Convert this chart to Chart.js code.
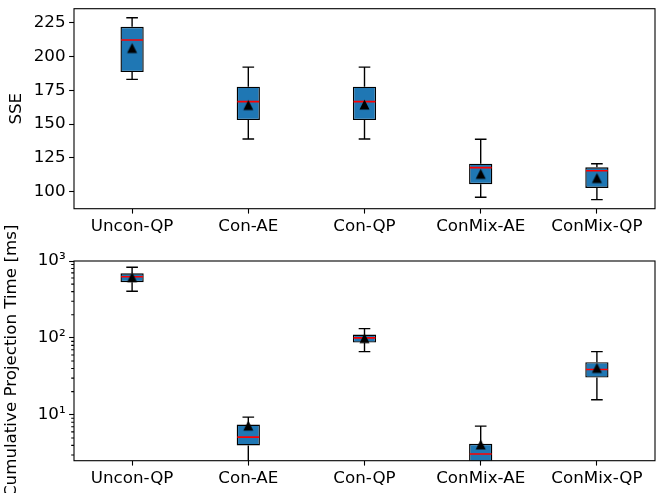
<!DOCTYPE html>
<html>
<head>
<meta charset="utf-8">
<script src="https://cdn.jsdelivr.net/npm/chart.js@4"></script>
<style>
  html, body { margin:0; padding:0; background:#fff; overflow:hidden; width:656px; height:493px; }
  #c1 { position:absolute; left:0; top:0; }
  #c2 { position:absolute; left:0; top:220px; }
</style>
</head>
<body>
<canvas id="c1" width="662" height="240"></canvas>
<canvas id="c2" width="662" height="273"></canvas>
<script>
// ---------- data ----------
const categories = ['Uncon-QP', 'Con-AE', 'Con-QP', 'ConMix-AE', 'ConMix-QP'];

// SSE (top panel)
const sseWhiskerLow  = [183.1, 139.0, 139.0, 95.9, 94.1];
const sseQ1          = [188.5, 153.0, 153.0, 105.5, 102.7];
const sseMedian      = [212.2, 166.6, 166.6, 117.8, 115.5];
const sseQ3          = [222.0, 177.7, 177.7, 120.7, 118.0];
const sseWhiskerHigh = [228.7, 192.2, 192.2, 138.8, 120.7];
const sseMean        = [206.3, 164.1, 164.5, 113.2, 110.1];
const sseTicks       = [100, 125, 150, 175, 200, 225];

// Cumulative projection time [ms] (bottom panel, log scale)
const timeWhiskerLow  = [404, 1.5, 66.4, 1.0, 15.7];
const timeQ1          = [529, 3.99, 87, 2.0, 30.5];
const timeMedian      = [625, 5.13, 100, 3.09, 38.8];
const timeQ3          = [692, 7.48, 110.5, 4.2, 48.3];
const timeWhiskerHigh = [828, 9.33, 132, 7.13, 66.4];
const timeMean        = [616, 7.24, 99.4, 4.11, 40.7];
const timeMajorTicks  = [10, 100, 1000];
const timeMajorLabels = ['10¹', '10²', '10³'];
const timeMinorTicks  = [3,4,5,6,7,8,9,20,30,40,50,60,70,80,90,200,300,400,500,600,700,800,900];

// ---------- styling ----------
const FONT = { family: 'DejaVu Sans', size: 16.7 };
Chart.defaults.color = '#000';
Chart.defaults.font.family = 'DejaVu Sans';
Chart.defaults.font.size = 16.7;

const tri = document.createElement('canvas');
tri.width = 13; tri.height = 13;
(function(){
  const c = tri.getContext('2d');
  c.beginPath(); c.moveTo(6.5, 1.5); c.lineTo(1.5, 11.5); c.lineTo(11.5, 11.5); c.closePath();
  c.fillStyle = '#000'; c.fill();
})();

const boxParts = {
  id: 'boxParts',
  afterDatasetDraw(chart, args, opts) {
    if (args.index !== 0) return;
    const ctx = chart.ctx, xs = chart.scales.x, ys = chart.scales.y, a = chart.chartArea;
    const cw = xs.getPixelForValue(1) - xs.getPixelForValue(0);
    ctx.save();
    ctx.beginPath(); ctx.rect(a.left, a.top, a.right - a.left, a.bottom - a.top); ctx.clip();
    for (let i = 0; i < opts.med.length; i++) {
      const px = xs.getPixelForValue(i);
      const yLo = ys.getPixelForValue(opts.low[i]);
      const yQ1 = ys.getPixelForValue(opts.q1[i]);
      const yQ3 = ys.getPixelForValue(opts.q3[i]);
      const yHi = ys.getPixelForValue(opts.high[i]);
      const yMed = ys.getPixelForValue(opts.med[i]);
      ctx.strokeStyle = '#000'; ctx.lineWidth = 1.4;
      ctx.beginPath();
      ctx.moveTo(px, yQ1); ctx.lineTo(px, yLo);
      ctx.moveTo(px, yQ3); ctx.lineTo(px, yHi);
      ctx.moveTo(px - 0.05 * cw, yLo); ctx.lineTo(px + 0.05 * cw, yLo);
      ctx.moveTo(px - 0.05 * cw, yHi); ctx.lineTo(px + 0.05 * cw, yHi);
      ctx.stroke();
      ctx.strokeStyle = 'red'; ctx.lineWidth = 1.6;
      ctx.beginPath();
      ctx.moveTo(px - 0.1 * cw + 0.7, yMed); ctx.lineTo(px + 0.1 * cw - 0.7, yMed);
      ctx.stroke();
    }
    ctx.restore();
  },
  afterDraw(chart, args, opts) {
    const ctx = chart.ctx, ys = chart.scales.y, a = chart.chartArea;
    ctx.save();
    ctx.strokeStyle = '#000'; ctx.lineWidth = 1.1;
    if (opts.minor) {
      ctx.beginPath();
      opts.minor.forEach(v => {
        const py = ys.getPixelForValue(v);
        if (py >= a.top - 0.5 && py <= a.bottom + 0.5) { ctx.moveTo(a.left, py); ctx.lineTo(a.left - 2.8, py); }
      });
      ctx.stroke();
    }
    ctx.strokeRect(a.left, a.top, a.right - a.left, a.bottom - a.top);
    ctx.restore();
  }
};

function makeChart(id, cfg) {
  const { q1, q3, low, high, med, mean, yScale, padTop, xHeight, title, titlePad, minor } = cfg;
  return new Chart(document.getElementById(id), {
    type: 'bar',
    data: {
      labels: categories,
      datasets: [
        {
          type: 'bar',
          data: q1.map((v, i) => [v, q3[i]]),
          backgroundColor: '#1f77b4',
          borderColor: '#000',
          borderWidth: 1.4,
          borderSkipped: false,
          barPercentage: 0.2,
          categoryPercentage: 1.0,
          order: 2
        },
        {
          type: 'line',
          data: mean,
          showLine: false,
          pointStyle: tri,
          pointRadius: 6,
          order: 1
        }
      ]
    },
    options: {
      responsive: false,
      animation: false,
      events: [],
      layout: { padding: { top: padTop, right: 1.7, left: 0, bottom: 0 } },
      plugins: {
        legend: { display: false },
        tooltip: { enabled: false },
        boxParts: { q1, q3, low, high, med, minor }
      },
      scales: {
        x: {
          type: 'category',
          offset: true,
          grid: { display: true, offset: false, drawOnChartArea: false, tickLength: 4.9, tickColor: '#000', tickWidth: 1.1 },
          border: { display: false },
          ticks: { font: FONT, color: '#000', padding: 3, maxRotation: 0, autoSkip: false },
          afterFit(s) { s.height = xHeight; s.paddingLeft = 0; s.paddingRight = 0; }
        },
        y: Object.assign({
          grid: { display: true, drawOnChartArea: false, tickLength: 4.9, tickColor: '#000', tickWidth: 1.1 },
          border: { display: false },
          title: { display: true, text: title, font: FONT, color: '#000', padding: { top: titlePad, bottom: 0 } },
          afterFit(s) { s.width = 74; s.paddingTop = 0; s.paddingBottom = 0; }
        }, yScale)
      }
    },
    plugins: [boxParts]
  });
}

makeChart('c1', {
  q1: sseQ1, q3: sseQ3, low: sseWhiskerLow, high: sseWhiskerHigh, med: sseMedian, mean: sseMean,
  padTop: 8.7, xHeight: 31.3, title: 'SSE', titlePad: 7, minor: null,
  yScale: {
    type: 'linear', min: 87.4, max: 235.4,
    ticks: { font: FONT, color: '#000', padding: 3.5 },
    afterBuildTicks(s) { s.ticks = sseTicks.map(v => ({ value: v })); }
  }
});

makeChart('c2', {
  q1: timeQ1, q3: timeQ3, low: timeWhiskerLow, high: timeWhiskerHigh, med: timeMedian, mean: timeMean,
  padTop: 41, xHeight: 32.3, title: 'Cumulative Projection Time [ms]', titlePad: 2, minor: timeMinorTicks,
  yScale: {
    type: 'logarithmic', min: 2.53, max: 1000,
    ticks: {
      font: FONT, color: '#000', padding: 3.5,
      callback(v) { const k = timeMajorTicks.indexOf(v); return k >= 0 ? timeMajorLabels[k] : ''; }
    },
    afterBuildTicks(s) { s.ticks = timeMajorTicks.map(v => ({ value: v })); }
  }
});
</script>
</body>
</html>
